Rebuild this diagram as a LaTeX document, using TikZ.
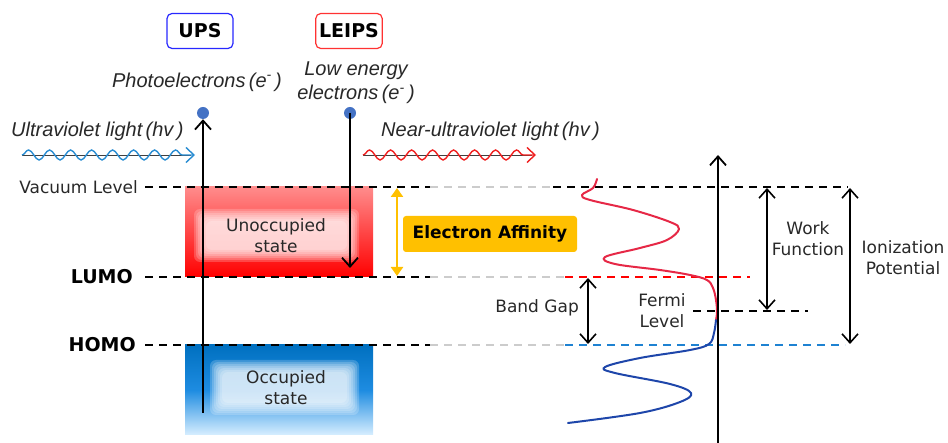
\documentclass[tikz,border=0pt]{standalone}
\usepackage{fontspec}
\setmainfont{DejaVu Sans}
\newfontfamily\slantfont{Liberation Sans}
\usetikzlibrary{arrows.meta,calc,positioning,decorations.pathmorphing}

\definecolor{dotblue}{RGB}{68,114,196}
\definecolor{eaorange}{RGB}{255,192,0}
\definecolor{statered}{RGB}{255,0,0}
\definecolor{stateblue}{RGB}{0,112,192}
\definecolor{dosred}{RGB}{230,40,70}
\definecolor{dosblue}{RGB}{30,70,170}
\definecolor{wavblue}{RGB}{40,140,210}
\definecolor{wavred}{RGB}{240,30,30}
\definecolor{textgrey}{RGB}{40,40,40}
\definecolor{upsblue}{RGB}{40,40,255}
\definecolor{leipsred}{RGB}{255,50,50}
\definecolor{homoblue}{RGB}{30,130,210}

\begin{document}
\begin{tikzpicture}[
  x=1pt,y=-1pt,
  lbl/.style={font=\fontsize{17}{21}\selectfont,text=textgrey,align=center,inner sep=1pt},
  boldlbl/.style={font=\fontsize{19}{22}\selectfont\bfseries,text=black,inner sep=1pt},
  italbl/.style={font=\slantfont\itshape\fontsize{20}{24}\selectfont,text=textgrey,
                 align=center,inner sep=1pt},
  methodbox/.style={draw,rounded corners=5pt,line width=1.2pt,minimum width=66pt,
                    minimum height=35pt,font=\fontsize{19}{20}\selectfont\bfseries},
  dashlevel/.style={dash pattern=on 8pt off 6pt,line width=1.6pt},
  emit/.style={line width=1.8pt,-{Straight Barb[length=9pt,width=16pt]}},
  gaparrow/.style={line width=1.6pt,
                   {Straight Barb[length=9pt,width=16pt]}-{Straight Barb[length=9pt,width=16pt]}},
  electron/.style={circle,fill=dotblue,minimum size=12pt,inner sep=0pt},
  photon/.style={decorate,decoration={snake,amplitude=5pt,segment length=21pt,
                 post length=8pt},line width=1.4pt,-{Straight Barb[length=8pt,width=15pt]}},
  glow/.style={white,opacity=0.2,rounded corners=6pt},
  dos/.style={line width=2pt,line join=round,line cap=round}
]
\useasboundingbox (0,0) rectangle (948,443);

% energy levels
\coordinate (vac0)  at (145,187);
\coordinate (vac1)  at (430,187);
\coordinate (vac2)  at (553,187);
\coordinate (vac3)  at (848,187);
\coordinate (lumo0) at (145,277);
\coordinate (lumo1) at (430,277);
\coordinate (lumo2) at (565,277);
\coordinate (lumo3) at (750,277);
\coordinate (homo0) at (145,345);
\coordinate (homo1) at (430,345);
\coordinate (homo2) at (565,345);
\coordinate (homo3) at (845,345);
\coordinate (fermi0) at (693,311);
\coordinate (fermi1) at (808,311);

% states
\shade[top color={rgb,255:red,255;green,140;blue,140},bottom color=statered,
       middle color={rgb,255:red,255;green,70;blue,70}] (185,187) rectangle (373,277);
\fill[glow] (194,209) rectangle (359,262);
\fill[glow] (196,211) rectangle (357,260);
\fill[glow] (198,213) rectangle (355,258);
\fill[glow] (200,215) rectangle (353,256);
\fill[glow] (202,217) rectangle (351,254);
\fill[glow] (204,219) rectangle (349,252);
\fill[glow] (206,221) rectangle (347,250);
\shade[top color=stateblue,bottom color={rgb,255:red,215;green,238;blue,255},
       middle color={rgb,255:red,30;green,140;blue,225}] (185,345) rectangle (373,435);
\fill[glow] (210,360) rectangle (359,415);
\fill[glow] (212,362) rectangle (357,413);
\fill[glow] (214,364) rectangle (355,411);
\fill[glow] (216,366) rectangle (353,409);
\fill[glow] (218,368) rectangle (351,407);
\fill[glow] (220,370) rectangle (349,405);
\fill[glow] (222,372) rectangle (347,403);
\node[lbl] (unocc) at (276,236) {Unoccupied\\state};
\node[lbl] (occ)   at (286,388) {Occupied\\state};

\draw[dashlevel] (vac0) -- (vac1);
\draw[dashlevel,gray!40] (vac1) -- (vac2);
\draw[dashlevel] (vac2) -- (vac3);
\draw[dashlevel] (lumo0) -- (lumo1);
\draw[dashlevel,gray!40] (lumo1) -- (lumo2);
\draw[dashlevel,statered] (lumo2) -- (lumo3);
\draw[dashlevel] (homo0) -- (homo1);
\draw[dashlevel,gray!40] (homo1) -- (homo2);
\draw[dashlevel,homoblue] (homo2) -- (homo3);
\draw[dashlevel] (fermi0) -- (fermi1);

\node[lbl,font=\fontsize{17}{19}\selectfont,anchor=east] (vaclbl) at (139,187) {Vacuum Level};
\node[boldlbl,anchor=east] (lumolbl) at (134,277) {LUMO};
\node[boldlbl,anchor=east] (homolbl) at (137,345) {HOMO};

% density of states
\draw[dos,dosred] plot[smooth,tension=0.6] coordinates {
  (597,179) (593,188) (582,195) (590,200) (633,210) (670,222) (679,229) (667,240)
  (640,248) (605,257) (615,264) (660,270) (690,275) (707,280) (713,288) (716,300)
  (717,312) (716,320)};
\draw[dos,dosblue] plot[smooth,tension=0.6] coordinates {
  (716,320) (714,333) (709,344) (690,350) (640,358) (605,367) (615,373) (670,384)
  (691,393) (680,402) (640,413) (568,423)};

% methods
\node[methodbox,draw=upsblue] (ups) at (200,31) {UPS};
\node[methodbox,draw=leipsred] (leips) at (349,31) {LEIPS};
\node[italbl] (photo) at (197,82) {Photoelectrons\,(e\textsuperscript{-}\,)};
\node[italbl] (lowe) at (356,83) {Low energy\\electrons\,(e\textsuperscript{-}\,)};
\node[italbl,anchor=west] (uvlbl) at (10,131) {Ultraviolet light\,(hv\,)};
\node[italbl,anchor=west] (nuvlbl) at (380,131) {Near-ultraviolet light\,(hv\,)};

\coordinate (uv0) at (22,155);
\coordinate (uv1) at (195,155);
\coordinate (nuv0) at (363,155);
\coordinate (nuv1) at (536,155);
\draw[black!75,line width=0.9pt] (uv0) -- ($(uv1)+(-4,0)$);
\draw[photon,wavblue] (uv0) -- (uv1);
\draw[black!75,line width=0.9pt] (nuv0) -- ($(nuv1)+(-4,0)$);
\draw[photon,wavred] (nuv0) -- (nuv1);

\node[electron] (eups) at (203,113) {};
\node[electron] (eleips) at (350,113) {};
\coordinate (upsstart) at (203,413);
\coordinate (leipsend) at (350,268);
\draw[emit] (upsstart) -- (eups.south);
\draw[emit] (eleips.center) -- (leipsend);

% electron affinity
\coordinate (eatop) at (397,188);
\coordinate (eabot) at (397,276);
\draw[eaorange,line width=2.5pt,
      {Triangle[length=9pt,width=12pt]}-{Triangle[length=9pt,width=12pt]}] (eatop) -- (eabot);
\node[fill=eaorange,rounded corners=3pt,minimum width=174pt,minimum height=36pt,
      font=\fontsize{17}{20}\selectfont\bfseries] (ealbl) at (490,234) {Electron Affinity};

% gaps
\coordinate (bgtop) at (588,278);
\coordinate (bgbot) at (588,344);
\draw[gaparrow] (bgtop) -- (bgbot);
\node[lbl,anchor=east] (bglbl) at (580,308) {Band Gap};

\coordinate (axbot) at (718,443);
\coordinate (axtop) at (718,155);
\draw[emit] (axbot) -- (axtop);
\node[lbl] (fermilbl) at (662,311) {Fermi\\Level};

\coordinate (wftop) at (767,188);
\coordinate (wfbot) at (767,310);
\draw[gaparrow] (wftop) -- (wfbot);
\node[lbl] (wflbl) at (808,239) {Work\\Function};

\coordinate (iptop) at (850,188);
\coordinate (ipbot) at (850,344);
\draw[gaparrow] (iptop) -- (ipbot);
\node[lbl] (iplbl) at (903,258) {Ionization\\Potential};
\end{tikzpicture}
\end{document}
